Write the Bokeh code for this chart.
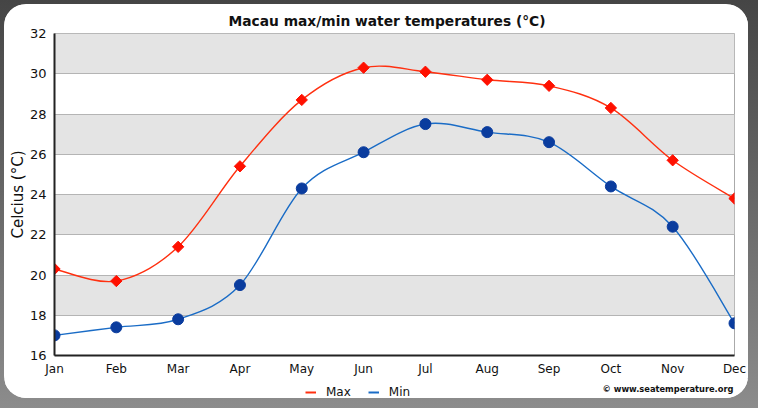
from bokeh.plotting import figure
from bokeh.layouts import column
from bokeh.models import Range1d, FixedTicker, Label, Legend, LegendItem
from bokeh.embed import file_html
from bokeh.resources import INLINE
import numpy as np

months = ["Jan", "Feb", "Mar", "Apr", "May", "Jun",
          "Jul", "Aug", "Sep", "Oct", "Nov", "Dec"]
max_temp = [20.3, 19.7, 21.4, 25.4, 28.7, 30.3, 30.1, 29.7, 29.4, 28.3, 25.7, 23.8]
min_temp = [17.0, 17.4, 17.8, 19.5, 24.3, 26.1, 27.5, 27.1, 26.6, 24.4, 22.4, 17.6]
y_ticks = [16, 18, 20, 22, 24, 26, 28, 30, 32]
series_names = ["Max", "Min"]

FONT = "DejaVu Sans"
MAX_LINE, MAX_MARK = "#ff3010", "#ff1000"
MIN_LINE, MIN_MARK = "#1a6cc6", "#0a3c9e"

PANEL_W, CHART_H, FOOT_H = 744, 374, 20
FRAME_W = 680  # plot frame width shared by chart and footer

x = np.arange(len(months), dtype=float)

p = figure(width=PANEL_W, height=CHART_H, x_range=Range1d(0, 11), y_range=Range1d(16, 32),
           output_backend="svg", toolbar_location=None,
           min_border_left=50, min_border_right=14, min_border_top=29, min_border_bottom=23,
           background_fill_color="white", border_fill_color="white",
           outline_line_color="#aaaaaa", outline_line_width=1)

# title
p.title.text = "Macau max/min water temperatures (°C)"
p.title.align = "left"
p.title.offset = 174
p.title.text_font = FONT
p.title.text_font_size = "13.8px"
p.title.text_font_style = "bold"
p.title.text_color = "#111111"
p.title.standoff = 10

# axes
p.xaxis.ticker = FixedTicker(ticks=list(range(len(months))))
p.xaxis.major_label_overrides = {i: m for i, m in enumerate(months)}
p.yaxis.ticker = FixedTicker(ticks=y_ticks)
for ax in (p.xaxis[0], p.yaxis[0]):
    ax.axis_line_color = "#222222"
    ax.axis_line_width = 2
    ax.major_tick_line_color = None
    ax.minor_tick_line_color = None
    ax.major_tick_out = 0
    ax.major_label_text_font = FONT
    ax.major_label_text_color = "#111111"
p.xaxis.major_label_text_font_size = "12px"
p.xaxis.major_label_standoff = 6
p.yaxis.major_label_text_font_size = "13px"
p.yaxis.major_label_standoff = 8
p.yaxis.axis_label = "Celcius (°C)"
p.yaxis.axis_label_text_font = FONT
p.yaxis.axis_label_text_font_size = "15px"
p.yaxis.axis_label_text_font_style = "normal"
p.yaxis.axis_label_text_color = "#111111"
p.yaxis.axis_label_standoff = 0

# grid with alternating bands
p.xgrid.grid_line_color = None
p.ygrid.grid_line_color = "#b4b4b4"
p.ygrid.grid_line_width = 1
p.ygrid.band_fill_color = "#e4e4e4"
p.ygrid.band_fill_alpha = 1.0


def smooth_segments(xs, ys):
    """Catmull-Rom control points for a smooth curve through the points."""
    xs = np.asarray(xs, float)
    ys = np.asarray(ys, float)
    xp = np.concatenate([[xs[0]], xs, [xs[-1]]])
    yp = np.concatenate([[ys[0]], ys, [ys[-1]]])
    n = len(xs)
    d = dict(x0=[], y0=[], x1=[], y1=[], cx0=[], cy0=[], cx1=[], cy1=[])
    for i in range(n - 1):
        j = i + 1
        d["x0"].append(xp[j]); d["y0"].append(yp[j])
        d["x1"].append(xp[j + 1]); d["y1"].append(yp[j + 1])
        d["cx0"].append(xp[j] + (xp[j + 1] - xp[j - 1]) / 6)
        d["cy0"].append(yp[j] + (yp[j + 1] - yp[j - 1]) / 6)
        d["cx1"].append(xp[j + 1] - (xp[j + 2] - xp[j]) / 6)
        d["cy1"].append(yp[j + 1] - (yp[j + 2] - yp[j]) / 6)
    return d


p.bezier(line_color=MAX_LINE, line_width=1.4, **smooth_segments(x, max_temp))
p.bezier(line_color=MIN_LINE, line_width=1.4, **smooth_segments(x, min_temp))
p.scatter(x, max_temp, marker="square", angle=np.pi / 4, size=8,
          fill_color=MAX_MARK, line_color=MAX_MARK)
p.scatter(x, min_temp, marker="circle", size=11,
          fill_color=MIN_MARK, line_color=MIN_MARK)

# footer strip: legend and credit line (its frame lines up with the chart frame)
foot = figure(width=PANEL_W, height=FOOT_H, x_range=Range1d(0, FRAME_W), y_range=Range1d(0, FOOT_H),
              output_backend="svg", toolbar_location=None,
              x_axis_type=None, y_axis_type=None, min_border=0,
              background_fill_color="white", border_fill_color="white",
              outline_line_color=None)
foot.xgrid.visible = False
foot.ygrid.visible = False

# legend swatches only: a single empty sample each, nothing is plotted
leg_max = foot.line([np.nan], [np.nan], line_color=MAX_LINE, line_width=2)
leg_min = foot.line([np.nan], [np.nan], line_color=MIN_LINE, line_width=2)
legend = Legend(items=[LegendItem(label=series_names[0], renderers=[leg_max]),
                       LegendItem(label=series_names[1], renderers=[leg_min])],
                orientation="horizontal", location=(251, -1),
                glyph_width=11, glyph_height=10, label_height=10,
                label_standoff=10, spacing=17, padding=0, margin=0,
                border_line_color=None, background_fill_alpha=0,
                label_text_font=FONT, label_text_font_size="12px",
                label_text_color="#111111")
foot.add_layout(legend, "center")

foot.add_layout(Label(x=FRAME_W - 1, y=10, text="© www.seatemperature.org",
                      text_align="right", text_baseline="middle",
                      text_font=FONT, text_font_size="8.3px",
                      text_font_style="bold", text_color="#111111"))

panel = column(p, foot, spacing=0,
               styles={"border-radius": "22px", "overflow": "hidden", "background": "white"})
panel.margin = (4, 10, 10, 4)

layout = column(panel, styles={"background": "linear-gradient(to bottom, #454545, #8c8c8c)"})

open("out.html", "w").write(file_html(layout, INLINE))
